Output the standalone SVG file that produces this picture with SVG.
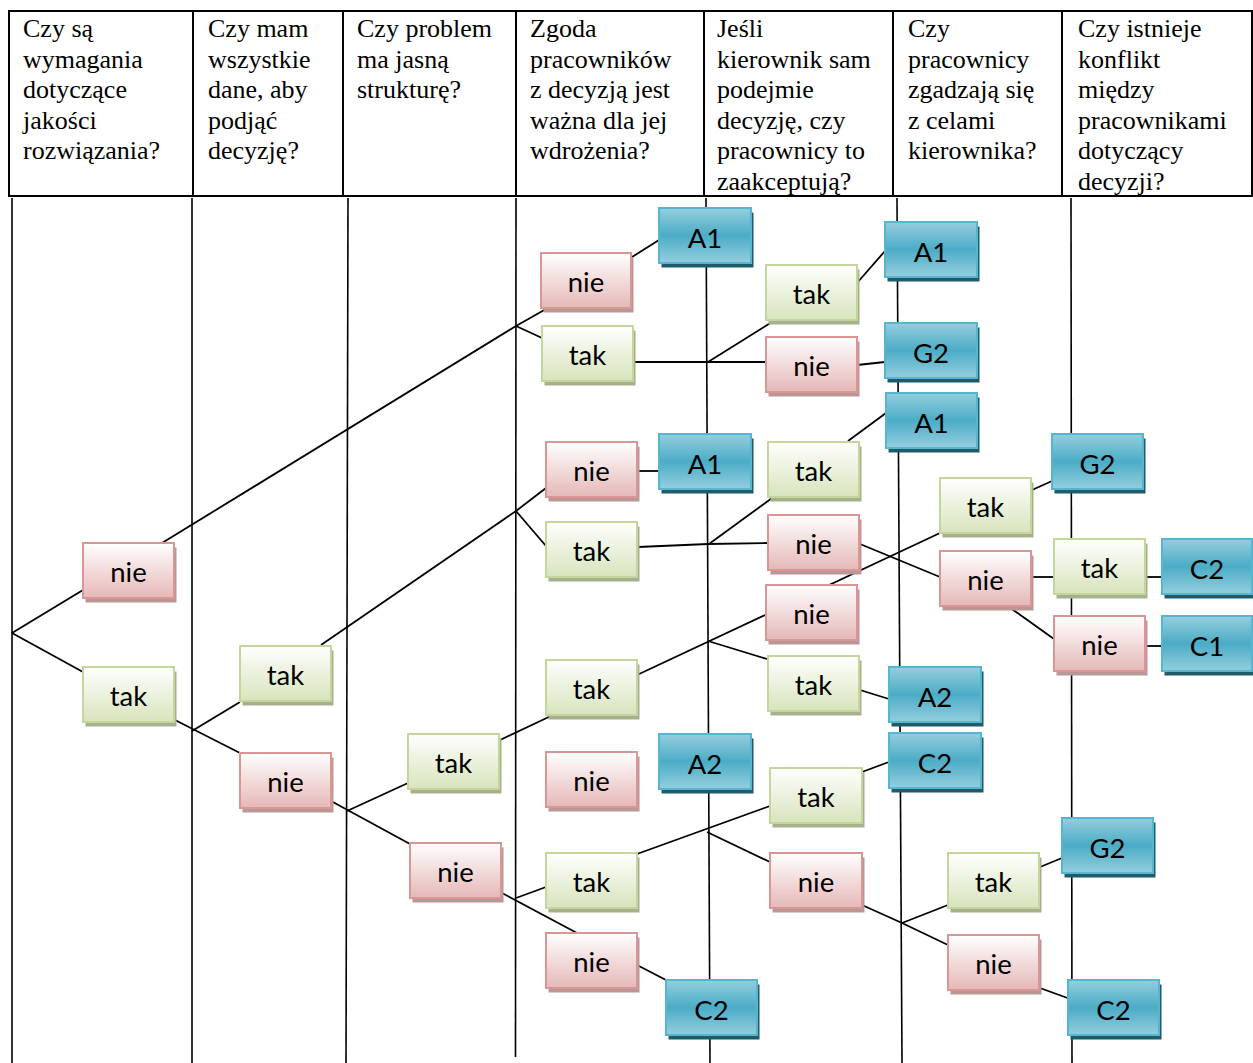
<svg xmlns="http://www.w3.org/2000/svg" width="1253" height="1063" viewBox="0 0 1253 1063">
<defs>
<linearGradient id="gP" x1="0" y1="0" x2="0" y2="1"><stop offset="0" stop-color="#FFFFFF"/><stop offset="1" stop-color="#E5B8B7"/></linearGradient>
<linearGradient id="gG" x1="0" y1="0" x2="0" y2="1"><stop offset="0" stop-color="#FFFFFF"/><stop offset="1" stop-color="#D7E4BC"/></linearGradient>
<linearGradient id="gB" x1="0" y1="0" x2="0" y2="1"><stop offset="0" stop-color="#95CEDE"/><stop offset="0.5" stop-color="#4BACC6"/><stop offset="1" stop-color="#95CEDE"/></linearGradient>
<style>
.hd{fill:none;stroke:#000;stroke-width:2}
.ht{font-family:"Liberation Serif",serif;font-size:26px;fill:#000}
.grid line{stroke:#000;stroke-width:1.6}
.conn line,.conn polyline{stroke:#000;stroke-width:1.8;fill:none}
.node text{font-family:Lato,"Noto Sans",sans-serif;font-size:27.5px;fill:#000;text-anchor:middle}
.s{transform:translate(2.5px,4.5px)}
.p .s{fill:#B89796}.p .b{fill:url(#gP);stroke:#D99694;stroke-width:2}
.g .s{fill:#A8AF8E}.g .b{fill:url(#gG);stroke:#C3D69B;stroke-width:2}
.k .s{fill:#215A69}.k .b{fill:url(#gB);stroke:#56B6D0;stroke-width:2}
</style>
</defs>
<rect width="1253" height="1063" fill="#FFFFFF"/>
<g id="header">
<rect class="hd" x="9" y="11" width="1243" height="185"/>
<line class="hd" x1="193" y1="11" x2="193" y2="196"/>
<line class="hd" x1="343" y1="11" x2="343" y2="196"/>
<line class="hd" x1="516" y1="11" x2="516" y2="196"/>
<line class="hd" x1="704" y1="11" x2="704" y2="196"/>
<line class="hd" x1="893" y1="11" x2="893" y2="196"/>
<line class="hd" x1="1062" y1="11" x2="1062" y2="196"/>
<text class="ht"><tspan x="23" y="37">Czy są</tspan><tspan x="23" y="67.5">wymagania</tspan><tspan x="23" y="98">dotyczące</tspan><tspan x="23" y="128.5">jakości</tspan><tspan x="23" y="159">rozwiązania?</tspan></text>
<text class="ht"><tspan x="208" y="37">Czy mam</tspan><tspan x="208" y="67.5">wszystkie</tspan><tspan x="208" y="98">dane, aby</tspan><tspan x="208" y="128.5">podjąć</tspan><tspan x="208" y="159">decyzję?</tspan></text>
<text class="ht"><tspan x="357" y="37">Czy problem</tspan><tspan x="357" y="67.5">ma jasną</tspan><tspan x="357" y="98">strukturę?</tspan></text>
<text class="ht"><tspan x="530" y="37">Zgoda</tspan><tspan x="530" y="67.5">pracowników</tspan><tspan x="530" y="98">z decyzją jest</tspan><tspan x="530" y="128.5">ważna dla jej</tspan><tspan x="530" y="159">wdrożenia?</tspan></text>
<text class="ht"><tspan x="717" y="37">Jeśli</tspan><tspan x="717" y="67.5">kierownik sam</tspan><tspan x="717" y="98">podejmie</tspan><tspan x="717" y="128.5">decyzję, czy</tspan><tspan x="717" y="159">pracownicy to</tspan><tspan x="717" y="189.5">zaakceptują?</tspan></text>
<text class="ht"><tspan x="908" y="37">Czy</tspan><tspan x="908" y="67.5">pracownicy</tspan><tspan x="908" y="98">zgadzają się</tspan><tspan x="908" y="128.5">z celami</tspan><tspan x="908" y="159">kierownika?</tspan></text>
<text class="ht"><tspan x="1078" y="37">Czy istnieje</tspan><tspan x="1078" y="67.5">konflikt</tspan><tspan x="1078" y="98">między</tspan><tspan x="1078" y="128.5">pracownikami</tspan><tspan x="1078" y="159">dotyczący</tspan><tspan x="1078" y="189.5">decyzji?</tspan></text>
</g>
<g class="grid" id="grid">
<line x1="12" y1="198" x2="12" y2="1063"/>
<line x1="192" y1="198" x2="192" y2="1063"/>
<line x1="348" y1="198" x2="346" y2="1063"/>
<line x1="516" y1="198" x2="515.5" y2="1057"/>
<line x1="706" y1="198" x2="710" y2="1063"/>
<line x1="897" y1="198" x2="902" y2="1063"/>
<line x1="1071" y1="198" x2="1072" y2="1063"/>
</g>
<g class="conn" id="connectors">
<line x1="12" y1="633" x2="83" y2="590"/>
<line x1="12" y1="633" x2="83" y2="672"/>
<line x1="162" y1="543" x2="516" y2="326"/>
<line x1="516" y1="326" x2="546" y2="309"/>
<line x1="516" y1="326" x2="542" y2="338"/>
<line x1="632" y1="257" x2="659" y2="240"/>
<line x1="634" y1="362" x2="766" y2="362"/>
<line x1="708" y1="362" x2="772" y2="322"/>
<line x1="857" y1="283" x2="885" y2="251"/>
<line x1="857" y1="365" x2="885" y2="362"/>
<line x1="175" y1="720" x2="240" y2="753"/>
<line x1="192" y1="731" x2="240" y2="702"/>
<line x1="321" y1="645" x2="516" y2="511"/>
<line x1="516" y1="511" x2="546" y2="488"/>
<line x1="516" y1="511" x2="546" y2="546"/>
<line x1="637" y1="471" x2="659" y2="471"/>
<polyline points="638,547 708,544 768,543"/>
<line x1="709" y1="544" x2="772" y2="498"/>
<line x1="848" y1="441" x2="886" y2="413"/>
<line x1="860" y1="544" x2="940" y2="577"/>
<line x1="637" y1="675" x2="940" y2="533"/>
<line x1="708" y1="641" x2="767" y2="659"/>
<line x1="860" y1="690" x2="889" y2="699"/>
<line x1="1032" y1="490" x2="1052" y2="481"/>
<line x1="1031" y1="577" x2="1054" y2="577"/>
<line x1="1145" y1="577" x2="1162" y2="577"/>
<line x1="1009" y1="607" x2="1054" y2="639"/>
<line x1="1145" y1="646" x2="1162" y2="646"/>
<line x1="331" y1="801" x2="410" y2="844"/>
<line x1="347" y1="811" x2="408" y2="783"/>
<line x1="500" y1="740" x2="553" y2="715"/>
<line x1="502" y1="893" x2="577" y2="933"/>
<line x1="516" y1="898" x2="546" y2="887"/>
<line x1="637" y1="965" x2="666" y2="980"/>
<line x1="637" y1="854" x2="770" y2="806"/>
<line x1="707" y1="832" x2="770" y2="862"/>
<line x1="862" y1="772" x2="889" y2="762"/>
<polyline points="862,905 902,923 948,945"/>
<line x1="902" y1="923" x2="948" y2="905"/>
<line x1="1040" y1="867" x2="1062" y2="858"/>
<line x1="1040" y1="988" x2="1073" y2="1000"/>
</g>
<g id="n1" class="node p"><rect class="s" x="83" y="543" width="91" height="55"/><rect class="b" x="83" y="543" width="91" height="55"/><text x="128.5" y="582">nie</text></g>
<g id="n2" class="node g"><rect class="s" x="83" y="667" width="91" height="55"/><rect class="b" x="83" y="667" width="91" height="55"/><text x="128.5" y="706">tak</text></g>
<g id="n3" class="node g"><rect class="s" x="240" y="646" width="91" height="55"/><rect class="b" x="240" y="646" width="91" height="55"/><text x="285.5" y="685">tak</text></g>
<g id="n4" class="node p"><rect class="s" x="240" y="753" width="91" height="55"/><rect class="b" x="240" y="753" width="91" height="55"/><text x="285.5" y="792">nie</text></g>
<g id="n5" class="node g"><rect class="s" x="408" y="734" width="91" height="55"/><rect class="b" x="408" y="734" width="91" height="55"/><text x="453.5" y="773">tak</text></g>
<g id="n6" class="node p"><rect class="s" x="410" y="843" width="91" height="55"/><rect class="b" x="410" y="843" width="91" height="55"/><text x="455.5" y="882">nie</text></g>
<g id="n7" class="node p"><rect class="s" x="541" y="253" width="90" height="55"/><rect class="b" x="541" y="253" width="90" height="55"/><text x="586" y="292">nie</text></g>
<g id="n8" class="node g"><rect class="s" x="542" y="326" width="91" height="55"/><rect class="b" x="542" y="326" width="91" height="55"/><text x="587.5" y="365">tak</text></g>
<g id="n9" class="node p"><rect class="s" x="546" y="442" width="91" height="55"/><rect class="b" x="546" y="442" width="91" height="55"/><text x="591.5" y="481">nie</text></g>
<g id="n10" class="node g"><rect class="s" x="546" y="522" width="91" height="55"/><rect class="b" x="546" y="522" width="91" height="55"/><text x="591.5" y="561">tak</text></g>
<g id="n11" class="node g"><rect class="s" x="546" y="660" width="91" height="55"/><rect class="b" x="546" y="660" width="91" height="55"/><text x="591.5" y="699">tak</text></g>
<g id="n12" class="node p"><rect class="s" x="546" y="752" width="91" height="55"/><rect class="b" x="546" y="752" width="91" height="55"/><text x="591.5" y="791">nie</text></g>
<g id="n13" class="node g"><rect class="s" x="546" y="853" width="91" height="55"/><rect class="b" x="546" y="853" width="91" height="55"/><text x="591.5" y="892">tak</text></g>
<g id="n14" class="node p"><rect class="s" x="546" y="933" width="91" height="55"/><rect class="b" x="546" y="933" width="91" height="55"/><text x="591.5" y="972">nie</text></g>
<g id="n15" class="node k"><rect class="s" x="659" y="208" width="92" height="55"/><rect class="b" x="659" y="208" width="92" height="55"/><text x="705" y="248">A1</text></g>
<g id="n16" class="node k"><rect class="s" x="659" y="434" width="92" height="55"/><rect class="b" x="659" y="434" width="92" height="55"/><text x="705" y="474">A1</text></g>
<g id="n17" class="node k"><rect class="s" x="659" y="734" width="92" height="55"/><rect class="b" x="659" y="734" width="92" height="55"/><text x="705" y="774">A2</text></g>
<g id="n18" class="node k"><rect class="s" x="666" y="980" width="91" height="55"/><rect class="b" x="666" y="980" width="91" height="55"/><text x="711.5" y="1020">C2</text></g>
<g id="n19" class="node g"><rect class="s" x="766" y="265" width="91" height="55"/><rect class="b" x="766" y="265" width="91" height="55"/><text x="811.5" y="304">tak</text></g>
<g id="n20" class="node p"><rect class="s" x="766" y="337" width="91" height="55"/><rect class="b" x="766" y="337" width="91" height="55"/><text x="811.5" y="376">nie</text></g>
<g id="n21" class="node g"><rect class="s" x="768" y="442" width="91" height="55"/><rect class="b" x="768" y="442" width="91" height="55"/><text x="813.5" y="481">tak</text></g>
<g id="n22" class="node p"><rect class="s" x="768" y="515" width="91" height="55"/><rect class="b" x="768" y="515" width="91" height="55"/><text x="813.5" y="554">nie</text></g>
<g id="n23" class="node p"><rect class="s" x="766" y="585" width="91" height="55"/><rect class="b" x="766" y="585" width="91" height="55"/><text x="811.5" y="624">nie</text></g>
<g id="n24" class="node g"><rect class="s" x="768" y="656" width="91" height="55"/><rect class="b" x="768" y="656" width="91" height="55"/><text x="813.5" y="695">tak</text></g>
<g id="n25" class="node g"><rect class="s" x="770" y="768" width="92" height="55"/><rect class="b" x="770" y="768" width="92" height="55"/><text x="816" y="807">tak</text></g>
<g id="n26" class="node p"><rect class="s" x="770" y="853" width="92" height="55"/><rect class="b" x="770" y="853" width="92" height="55"/><text x="816" y="892">nie</text></g>
<g id="n27" class="node k"><rect class="s" x="885" y="222" width="92" height="55"/><rect class="b" x="885" y="222" width="92" height="55"/><text x="931" y="262">A1</text></g>
<g id="n28" class="node k"><rect class="s" x="885" y="323" width="92" height="55"/><rect class="b" x="885" y="323" width="92" height="55"/><text x="931" y="363">G2</text></g>
<g id="n29" class="node k"><rect class="s" x="886" y="393" width="91" height="55"/><rect class="b" x="886" y="393" width="91" height="55"/><text x="931.5" y="433">A1</text></g>
<g id="n30" class="node k"><rect class="s" x="889" y="667" width="92" height="55"/><rect class="b" x="889" y="667" width="92" height="55"/><text x="935" y="707">A2</text></g>
<g id="n31" class="node k"><rect class="s" x="889" y="733" width="92" height="55"/><rect class="b" x="889" y="733" width="92" height="55"/><text x="935" y="773">C2</text></g>
<g id="n32" class="node g"><rect class="s" x="940" y="478" width="91" height="55"/><rect class="b" x="940" y="478" width="91" height="55"/><text x="985.5" y="517">tak</text></g>
<g id="n33" class="node p"><rect class="s" x="940" y="551" width="91" height="55"/><rect class="b" x="940" y="551" width="91" height="55"/><text x="985.5" y="590">nie</text></g>
<g id="n34" class="node g"><rect class="s" x="948" y="853" width="91" height="55"/><rect class="b" x="948" y="853" width="91" height="55"/><text x="993.5" y="892">tak</text></g>
<g id="n35" class="node p"><rect class="s" x="948" y="935" width="91" height="55"/><rect class="b" x="948" y="935" width="91" height="55"/><text x="993.5" y="974">nie</text></g>
<g id="n36" class="node k"><rect class="s" x="1052" y="434" width="91" height="55"/><rect class="b" x="1052" y="434" width="91" height="55"/><text x="1097.5" y="474">G2</text></g>
<g id="n37" class="node g"><rect class="s" x="1054" y="539" width="91" height="55"/><rect class="b" x="1054" y="539" width="91" height="55"/><text x="1099.5" y="578">tak</text></g>
<g id="n38" class="node p"><rect class="s" x="1054" y="616" width="91" height="55"/><rect class="b" x="1054" y="616" width="91" height="55"/><text x="1099.5" y="655">nie</text></g>
<g id="n39" class="node k"><rect class="s" x="1062" y="818" width="91" height="55"/><rect class="b" x="1062" y="818" width="91" height="55"/><text x="1107.5" y="858">G2</text></g>
<g id="n40" class="node k"><rect class="s" x="1068" y="980" width="91" height="55"/><rect class="b" x="1068" y="980" width="91" height="55"/><text x="1113.5" y="1020">C2</text></g>
<g id="n41" class="node k"><rect class="s" x="1162" y="539" width="90" height="55"/><rect class="b" x="1162" y="539" width="90" height="55"/><text x="1207" y="579">C2</text></g>
<g id="n42" class="node k"><rect class="s" x="1162" y="616" width="90" height="55"/><rect class="b" x="1162" y="616" width="90" height="55"/><text x="1207" y="656">C1</text></g>
</svg>
